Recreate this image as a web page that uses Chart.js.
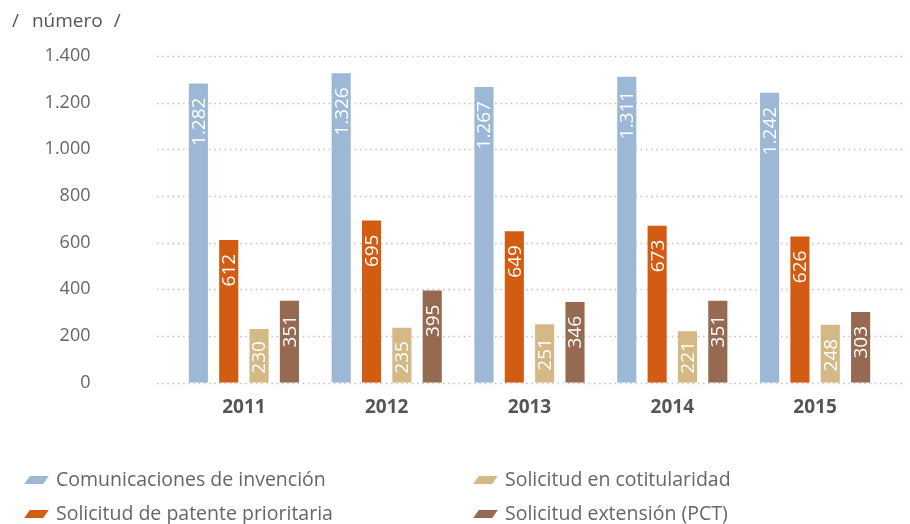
<!DOCTYPE html>
<html>
<head>
<meta charset="utf-8">
<script src="https://cdn.jsdelivr.net/npm/chart.js@4/dist/chart.umd.min.js"></script>
<style>
  html, body { margin: 0; padding: 0; background: #fff; }
  #wrap { position: relative; width: 910px; height: 524px; font-family: "Open Sans", sans-serif; }
  #c { position: absolute; left: 0; top: 0; }
  #unit { position: absolute; left: 12px; top: 7px; font-size: 19px; color: #555; white-space: pre; }
  #unit span { margin: 0 11px 0 13px; }
  .lg { position: absolute; font-size: 19.5px; color: #666; white-space: nowrap; line-height: 24px; }
  .sw { display: inline-block; width: 19px; height: 8px; transform: skewX(-35deg); margin-left: 2px; margin-right: 10px; vertical-align: middle; position: relative; top: -1px; }
</style>
</head>
<body>
<div id="wrap">
  <canvas id="c" width="910" height="524"></canvas>
  <div id="unit">/<span>número</span>/</div>
  <div id="legend"></div>
</div>
<script>
const categories = ["2011", "2012", "2013", "2014", "2015"];
const seriesNames = ["Comunicaciones de invención", "Solicitud de patente prioritaria", "Solicitud en cotitularidad", "Solicitud extensión (PCT)"];
const comunicaciones = [1282, 1326, 1267, 1311, 1242];
const prioritaria = [612, 695, 649, 673, 626];
const cotitularidad = [230, 235, 251, 221, 248];
const extension = [351, 395, 346, 351, 303];
const yTicks = [0, 200, 400, 600, 800, 1000, 1200, 1400];
const colors = ["#9db8d6", "#d35c13", "#d4b886", "#956a51"];

const seriesValues = [comunicaciones, prioritaria, cotitularidad, extension];

function fmt(v) {
  return String(v).replace(/\B(?=(\d{3})+(?!\d))/g, ".");
}

// legend (HTML)
const legendPos = [[25, 467], [25, 501], [474, 467], [474, 501]];
const lg = document.getElementById("legend");
seriesNames.forEach((n, i) => {
  const d = document.createElement("div");
  d.className = "lg";
  d.style.left = legendPos[i][0] + "px";
  d.style.top = legendPos[i][1] + "px";
  d.innerHTML = '<span class="sw" style="background:' + colors[i] + '"></span>' + n;
  lg.appendChild(d);
});

const gridPlugin = {
  id: "dotGrid",
  beforeDatasetsDraw(chart) {
    const ctx = chart.ctx;
    const y = chart.scales.y;
    ctx.save();
    ctx.strokeStyle = "#c4c4c4";
    ctx.lineWidth = 1.6;
    ctx.setLineDash([1.6, 3.6]);
    y.ticks.forEach((t) => {
      const py = Math.round(y.getPixelForValue(t.value)) + 0.5;
      ctx.beginPath();
      ctx.moveTo(157, py);
      ctx.lineTo(906, py);
      ctx.stroke();
    });
    ctx.restore();
  }
};

const labelPlugin = {
  id: "barLabels",
  afterDatasetsDraw(chart) {
    const ctx = chart.ctx;
    const base = chart.scales.y.getPixelForValue(0);
    ctx.save();
    ctx.fillStyle = "#ffffff";
    ctx.font = '19px "Open Sans", sans-serif';
    ctx.textAlign = "right";
    ctx.textBaseline = "middle";
    chart.data.datasets.forEach((ds, di) => {
      const meta = chart.getDatasetMeta(di);
      meta.data.forEach((bar, i) => {
        const txt = fmt(ds.data[i]);
        const w = ctx.measureText(txt).width;
        let top = bar.y + 14;
        if (top + w > base - 9) top = Math.max(bar.y + 3, base - 9 - w);
        ctx.save();
        ctx.translate(bar.x + 1, top);
        ctx.rotate(-Math.PI / 2);
        ctx.fillText(txt, 0, 0);
        ctx.restore();
      });
    });
    ctx.restore();
  }
};

new Chart(document.getElementById("c"), {
  type: "bar",
  data: {
    labels: categories,
    datasets: seriesNames.map((n, i) => ({
      label: n,
      data: seriesValues[i],
      backgroundColor: colors[i],
      borderWidth: 0,
      categoryPercentage: 0.85,
      barPercentage: 0.63
    }))
  },
  options: {
    responsive: false,
    animation: false,
    devicePixelRatio: 1,
    layout: { padding: { left: 0, right: 23.5, top: 56, bottom: 0 } },
    plugins: { legend: { display: false }, tooltip: { enabled: false } },
    scales: {
      x: {
        grid: { display: false, drawTicks: false },
        border: { display: false },
        ticks: { color: "#555", font: { family: "Open Sans", size: 19, weight: "bold" }, padding: 13 },
        afterFit(s) { s.height = 141.3; s.paddingLeft = 0; s.paddingRight = 0; }
      },
      y: {
        min: 0,
        max: 1400,
        afterBuildTicks(s) { s.ticks = yTicks.map(v => ({ value: v })); },
        grid: { display: false, drawTicks: false },
        border: { display: false },
        ticks: { color: "#666", font: { family: "Open Sans", size: 18 }, padding: 82, callback: (v) => fmt(v) },
        afterFit(s) { s.width = 172.5; s.paddingTop = 0; s.paddingBottom = 0; }
      }
    }
  },
  plugins: [gridPlugin, labelPlugin]
});
</script>
</body>
</html>
